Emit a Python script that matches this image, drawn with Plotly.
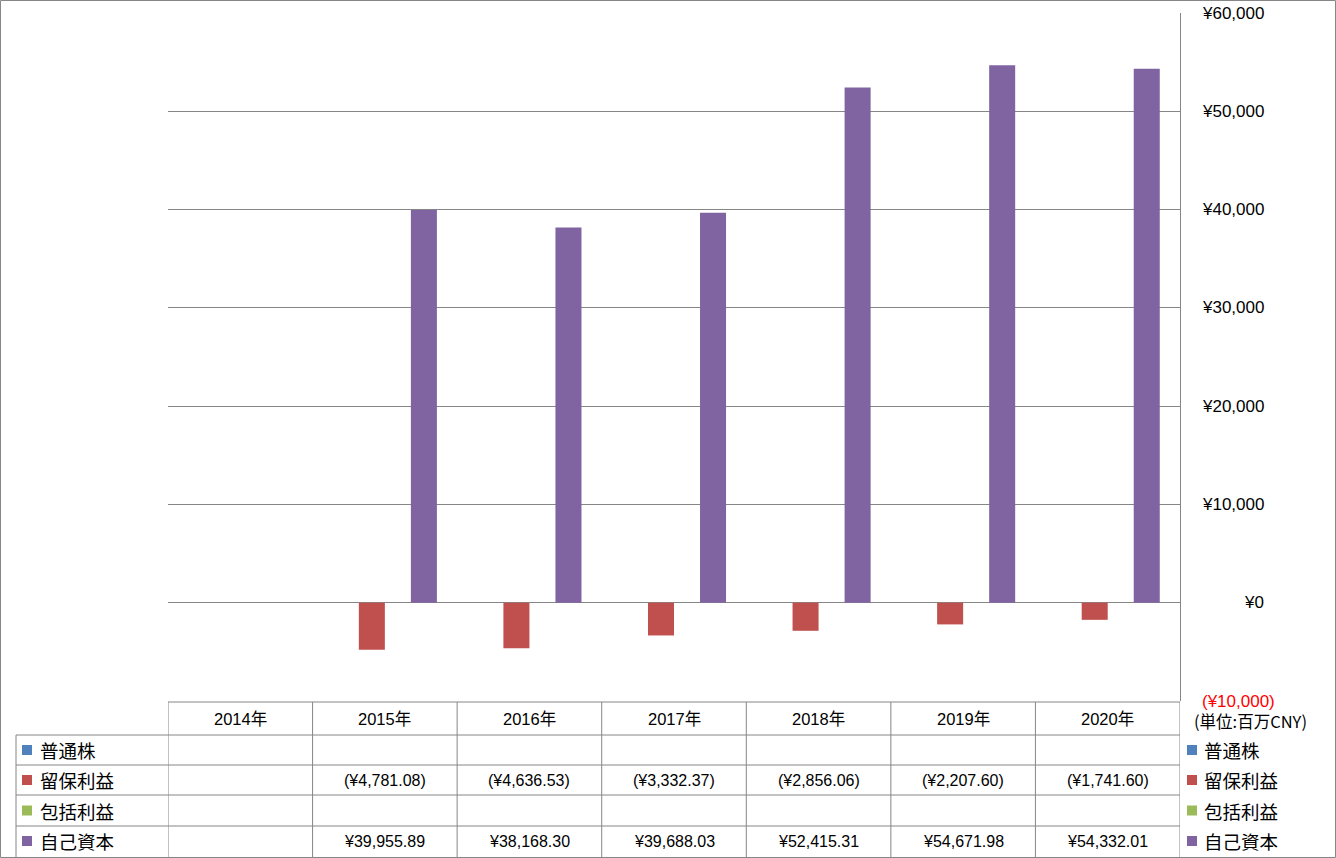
import plotly.graph_objects as go

categories = ["2014年", "2015年", "2016年", "2017年", "2018年", "2019年", "2020年"]
series_names = ["普通株", "留保利益", "包括利益", "自己資本"]
common_stock = [None, None, None, None, None, None, None]
retained_earnings = [None, -4781.08, -4636.53, -3332.37, -2856.06, -2207.60, -1741.60]
comprehensive_income = [None, None, None, None, None, None, None]
equity = [None, 39955.89, 38168.30, 39688.03, 52415.31, 54671.98, 54332.01]
y_ticks = [-10000, 0, 10000, 20000, 30000, 40000, 50000, 60000]
unit_label = "(単位:百万CNY)"

colors = ["#4F81BD", "#C0504D", "#9BBB59", "#8064A2"]
series_values = [common_stock, retained_earnings, comprehensive_income, equity]

W, H = 1336, 858
L, R, T, B = 168, 1180, 13, 701
GRID = "#868686"
NUM_FONT = "Liberation Sans, Noto Sans CJK JP"
JP_FONT = "Noto Sans CJK JP"


def px(x):
    return (x - L) / (R - L)


def py(y):
    return (B - y) / (B - T)


def fmt(v):
    if v is None:
        return ""
    s = "¥{:,.2f}".format(abs(v))
    return "({})".format(s) if v < 0 else s


def fmt_tick(v):
    s = "¥{:,.0f}".format(abs(v))
    return "({})".format(s) if v < 0 else s


fig = go.Figure()
for name, vals, c in zip(series_names, series_values, colors):
    fig.add_trace(go.Bar(x=categories, y=vals, name=name, marker=dict(color=c, line=dict(width=0)),
                         showlegend=False))

shapes = []
annotations = []

# outer chart border
shapes.append(dict(type="rect", xref="paper", yref="paper", x0=px(0.5), x1=px(W - 0.5),
                   y0=py(H - 0.5), y1=py(0.5), line=dict(color=GRID, width=1), layer="above"))

# table: header top line
shapes.append(dict(type="line", xref="paper", yref="paper", x0=0, x1=1, y0=py(702), y1=py(702),
                   line=dict(color=GRID, width=1)))
# row lines
for yy in [735, 765, 795, 826]:
    shapes.append(dict(type="line", xref="paper", yref="paper", x0=px(16), x1=1, y0=py(yy), y1=py(yy),
                       line=dict(color=GRID, width=1)))
# left border of legend column
shapes.append(dict(type="line", xref="paper", yref="paper", x0=px(16), x1=px(16), y0=py(735), y1=py(857),
                   line=dict(color=GRID, width=1)))
# vertical category separators
n = len(categories)
for i in range(n + 1):
    shapes.append(dict(type="line", xref="x", yref="paper", x0=i - 0.5, x1=i - 0.5, y0=py(702), y1=py(857),
                       line=dict(color=GRID, width=1)))

# header labels
for cat in categories:
    annotations.append(dict(x=cat, xref="x", y=py(718.5), yref="paper", text=cat, showarrow=False,
                            font=dict(family=NUM_FONT, size=16.5, color="#000000"),
                            xanchor="center", yanchor="middle"))

row_centers = [750, 780, 810.5, 841]
for r, (name, vals, c) in enumerate(zip(series_names, series_values, colors)):
    yc = row_centers[r]
    for cat, v in zip(categories, vals):
        if v is not None:
            annotations.append(dict(x=cat, xref="x", y=py(yc), yref="paper", text=fmt(v), showarrow=False,
                                    font=dict(family=NUM_FONT, size=16, color="#000000"),
                                    xanchor="center", yanchor="middle"))
    # left legend
    shapes.append(dict(type="rect", xref="paper", yref="paper", x0=px(22), x1=px(32), y0=py(yc + 5),
                       y1=py(yc - 5), fillcolor=c, line=dict(width=0)))
    annotations.append(dict(x=px(38), xref="paper", y=py(yc), yref="paper", text=name, showarrow=False,
                            font=dict(family=JP_FONT, size=18.5, color="#000000"),
                            xanchor="left", yanchor="middle"))
    # right legend
    shapes.append(dict(type="rect", xref="paper", yref="paper", x0=px(1187), x1=px(1197), y0=py(yc + 5),
                       y1=py(yc - 5), fillcolor=c, line=dict(width=0)))
    annotations.append(dict(x=px(1202), xref="paper", y=py(yc), yref="paper", text=name, showarrow=False,
                            font=dict(family=JP_FONT, size=18.5, color="#000000"),
                            xanchor="left", yanchor="middle"))

# y tick labels (right side, right-aligned like accounting format)
for v in y_ticks:
    neg = v < 0
    annotations.append(dict(x=px(1277 if neg else 1266), xref="paper", y=v, yref="y", text=fmt_tick(v),
                            showarrow=False,
                            font=dict(family=NUM_FONT, size=17, color="#FF0000" if neg else "#000000"),
                            xanchor="right", yanchor="middle"))

annotations.append(dict(x=px(1192), xref="paper", y=py(721), yref="paper", text=unit_label, showarrow=False,
                        font=dict(family=JP_FONT, size=16.5, color="#000000"),
                        xanchor="left", yanchor="middle"))

fig.update_layout(
    width=W, height=H,
    margin=dict(l=L, r=W - R, t=T, b=H - B),
    paper_bgcolor="#FFFFFF", plot_bgcolor="#FFFFFF",
    barmode="group", bargap=0.28, bargroupgap=0,
    xaxis=dict(type="category", showticklabels=False, showgrid=False, zeroline=False, showline=False,
               ticks="", range=[-0.5, n - 0.5], fixedrange=True),
    yaxis=dict(range=[-10000, 60000], side="right", tickvals=[v for v in y_ticks if v > -10000],
               showticklabels=False, showgrid=True, gridcolor=GRID, gridwidth=1,
               zeroline=True, zerolinecolor=GRID, zerolinewidth=1,
               showline=True, linecolor=GRID, linewidth=1, mirror=False, ticks="", fixedrange=True),
    shapes=shapes,
    annotations=annotations,
    font=dict(family=JP_FONT),
)

fig.write_html("out.html", config={"displayModeBar": False},
               post_script="document.body.style.margin='0';document.body.style.overflow='hidden';")
